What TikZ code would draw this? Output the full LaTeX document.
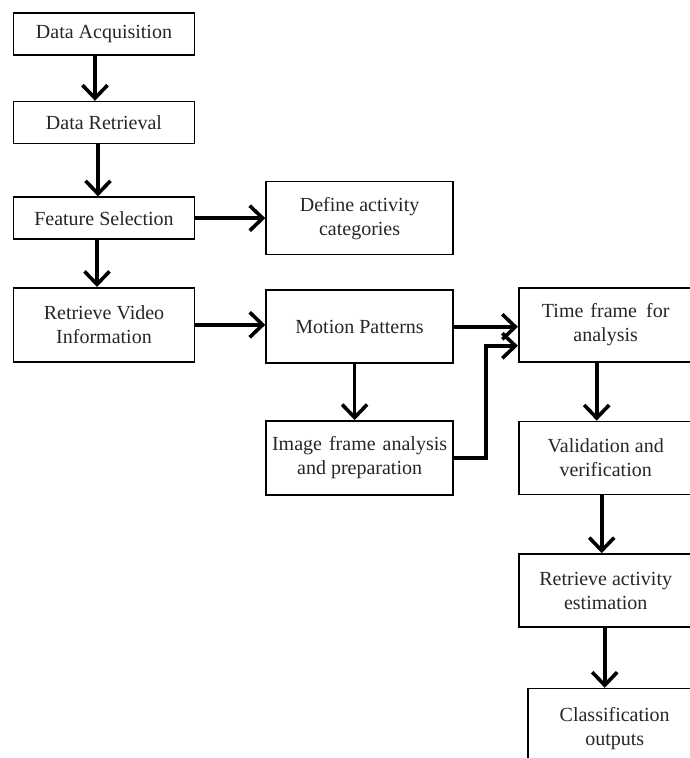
\documentclass[tikz,border=0pt]{standalone}
\usepackage{fontspec}
\setmainfont{Liberation Serif}
\usetikzlibrary{
positioning,%
arrows.meta
}
\tikzset{
    box/.style={draw, line width=1.6pt, align=center, inner sep=1pt,
        font=\fontsize{20}{24}\selectfont, text=black!85},
    flow/.style={-{Straight Barb[length=13pt,width=25pt]}, line width=3.6pt}
}

\begin{document}
\begin{tikzpicture}[x=1pt, y=1pt]
            \clip (0,0) rectangle (690,758);
            \node[box, minimum width=181pt, minimum height=42pt] (acq) at (104,724) {Data Acquisition};
            \node[box, minimum width=181pt, minimum height=42pt, below = 45pt of acq] (retr) {Data Retrieval};
            \node[box, minimum width=181pt, minimum height=42pt, below = 52pt of retr] (feat) {Feature Selection};
            \node[box, minimum width=181pt, minimum height=74pt, below = 47pt of feat] (video) {Retrieve Video\\Information};
            \node[box, minimum width=187pt, minimum height=73pt, right = 70pt of feat] (define) {Define activity\\categories};
            \node[box, minimum width=187pt, minimum height=73pt, right = 70pt of video, yshift=-2pt] (motion) {Motion Patterns};
            \node[box, minimum width=187pt, minimum height=74pt, below = 56pt of motion] (image) {Image\hspace{7pt}frame\hspace{7pt}analysis\\and preparation};
            \node[box, minimum width=174pt, minimum height=74pt, right = 64pt of motion, yshift=2pt] (time) {Time\hspace{7pt}frame\hspace{9pt}for\\analysis};
            \node[box, minimum width=174pt, minimum height=73pt, below = 58pt of time] (valid) {Validation and\\verification};
            \node[box, minimum width=174pt, minimum height=73pt, below = 58pt of valid] (act) {Retrieve activity\\estimation};
            \node[box, minimum width=174pt, minimum height=80pt, below = 60pt of act, xshift=9pt] (class) {Classification\\outputs};
            % ----
            \draw[flow] ([xshift=-9pt]acq.south) -- ([xshift=-9pt]acq.south |- retr.north);
            \draw[flow] ([xshift=-6pt]retr.south) -- ([xshift=-6pt]retr.south |- feat.north);
            \draw[flow] ([xshift=-7pt]feat.south) -- ([xshift=-7pt]feat.south |- video.north);
            \draw[flow] (feat.east) -- (feat.east -| define.west);
            \draw[flow] (video.east) -- (video.east -| motion.west);
            \draw[flow] ([xshift=-5pt]motion.south) -- ([xshift=-5pt]motion.south |- image.north);
            \draw[flow] (motion.east) -- (motion.east -| time.west);
            \draw[flow] (image.east) -- ++(32,0) |- ([yshift=-21pt]time.west);
            % ----
            \draw[flow] ([xshift=-9pt]time.south) -- ([xshift=-9pt]time.south |- valid.north);
            \draw[flow] ([xshift=-4pt]valid.south) -- ([xshift=-4pt]valid.south |- act.north);
            \draw[flow] ([xshift=-1pt]act.south) -- ([xshift=-1pt]act.south |- class.north);
        \end{tikzpicture}
\end{document}
